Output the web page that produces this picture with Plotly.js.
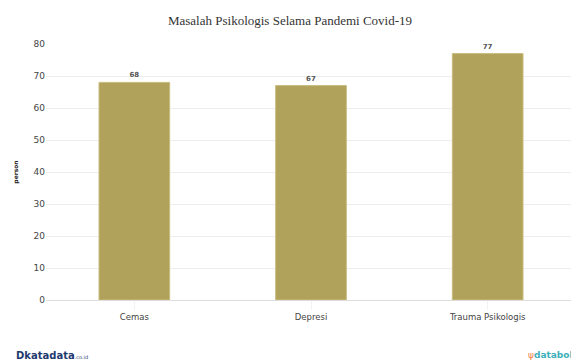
<!DOCTYPE html>
<html><head><meta charset="utf-8">
<script src="https://cdn.plot.ly/plotly-3.0.1.min.js"></script>
<style>html,body{margin:0;padding:0;overflow:hidden;background:#fff}#c{width:580px;height:363px}</style>
</head><body><div id="c"></div>
<script>
var categories = ["Cemas", "Depresi", "Trauma Psikologis"];
var values = [68, 67, 77];
var yTicks = [0, 10, 20, 30, 40, 50, 60, 70, 80];

Plotly.newPlot('c', [{
  type: 'bar', x: categories, y: values,
  marker: {color: '#b0a25a', line: {color: '#c8bc7e', width: 1}},
  text: values.map(String), textposition: 'outside', cliponaxis: false,
  textfont: {family: 'DejaVu Sans', size: 7, color: '#555', weight: 'bold'},
  hoverinfo: 'none'
}], {
  width: 580, height: 363,
  margin: {l: 46, r: 4, t: 44, b: 63},
  bargap: 0.6,
  paper_bgcolor: '#fff', plot_bgcolor: '#fff',
  title: {text: 'Masalah Psikologis Selama Pandemi Covid-19', x: 0.5, xanchor: 'center', y: 0.955,
    font: {family: 'Liberation Serif', size: 13, color: '#333'}},
  xaxis: {tickfont: {family: 'DejaVu Sans', size: 8.5, color: '#444'}, showline: false,
    ticks: 'outside', ticklen: 9, tickcolor: '#f2f2f2', tickwidth: 1, fixedrange: true},
  yaxis: {range: [0, 80], tickvals: yTicks, gridcolor: '#eeeeee', zeroline: true, zerolinecolor: '#dddddd',
    tickfont: {family: 'DejaVu Sans', size: 9, color: '#444'}, ticklen: 0, ticks: '',
    title: {text: 'person', font: {family: 'DejaVu Sans', size: 6, color: '#222', weight: 'bold'}, standoff: 14}},
  showlegend: false,
  annotations: [
    {xref: 'paper', yref: 'paper', x: -0.06, y: -0.215, xanchor: 'left', yanchor: 'middle', showarrow: false,
     text: '<b>D</b><b>katadata</b><span style="font-size:5px">.co.id</span>', font: {family: 'DejaVu Sans', size: 10, color: '#1e3a6e'}},
    {xref: 'paper', yref: 'paper', x: 0.905, y: -0.215, xanchor: 'left', yanchor: 'middle', showarrow: false,
     text: '<span style="color:#f0804a">ψ</span><b>databoks</b>', font: {family: 'DejaVu Sans', size: 9, color: '#3bb0b8'}}
  ]
}, {displayModeBar: false, staticPlot: true});
</script></body></html>
